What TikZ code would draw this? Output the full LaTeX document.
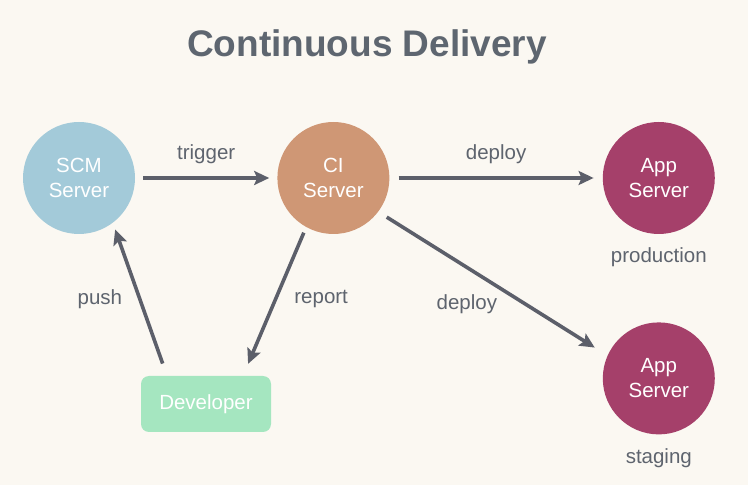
\documentclass[tikz,border=0pt]{standalone}
\usepackage{fontspec}
\setmainfont{Liberation Sans}
\usetikzlibrary{arrows.meta,positioning}
\definecolor{bgcream}{HTML}{FBF8F2}
\definecolor{scmblue}{HTML}{A3CAD9}
\definecolor{citan}{HTML}{CF9775}
\definecolor{appplum}{HTML}{A5406A}
\definecolor{devgreen}{HTML}{A5E6C0}
\definecolor{arrowgray}{HTML}{5C5F6A}
\definecolor{textgray}{HTML}{5E646E}
\definecolor{titlegray}{HTML}{5E6670}

\begin{document}
\begin{tikzpicture}[x=1pt, y=1pt,
  node distance=142pt,
  srv/.style={circle, minimum size=112pt, inner sep=0pt, align=center,
              text=white, font=\fontsize{20.5}{25}\selectfont},
  devbox/.style={rounded corners=8pt, minimum width=130pt, minimum height=56pt,
              text=white, font=\fontsize{20.5}{25}\selectfont},
  lbl/.style={text=textgray, font=\fontsize{20.5}{25}\selectfont, inner sep=2pt},
  arr/.style={-{Stealth[length=15pt, width=14pt, inset=3pt]}, arrowgray,
              line width=3.6pt}]
\useasboundingbox[fill=bgcream] (0,0) rectangle (748,485);
\node[lbl, text=titlegray, font=\fontsize{37}{44}\selectfont\bfseries,
      anchor=base] (title) at (367,428) {Continuous Delivery};
\node[srv, fill=scmblue] (scm) at (79,307) {SCM\\Server};
\node[srv, fill=citan, right=142pt of scm] (ci) {CI\\Server};
\node[srv, fill=appplum, right=213pt of ci] (prod) {App\\Server};
\node[srv, fill=appplum, below=88pt of prod] (stage) {App\\Server};
\node[devbox, fill=devgreen] (dev) at (206,81) {Developer};
\node[lbl, below=11pt of prod] (prodlbl) {production};
\node[lbl, below=12pt of stage] (stagelbl) {staging};
\draw[arr, shorten <=8pt, shorten >=8pt] (scm) -- node[lbl, above=10pt] (trig) {trigger} (ci);
\draw[arr, shorten <=9pt, shorten >=9pt] (ci) -- node[lbl, above=10pt] (dep1) {deploy} (prod);
\draw[arr, shorten <=10pt, shorten >=15pt] (ci.-37) -- node[lbl, midway, xshift=-26pt, yshift=-21pt] (dep2) {deploy} (stage.156);
\draw[arr, shorten <=6pt, shorten >=13pt] (ci.-119) -- node[lbl, midway, right=16pt, yshift=2.5pt] (rep) {report} ([xshift=37pt]dev.north);
\draw[arr, shorten <=13pt, shorten >=7pt] ([xshift=-39pt]dev.north) -- node[lbl, midway, left=14pt] (push) {push} (scm.-53);
\end{tikzpicture}
\end{document}
